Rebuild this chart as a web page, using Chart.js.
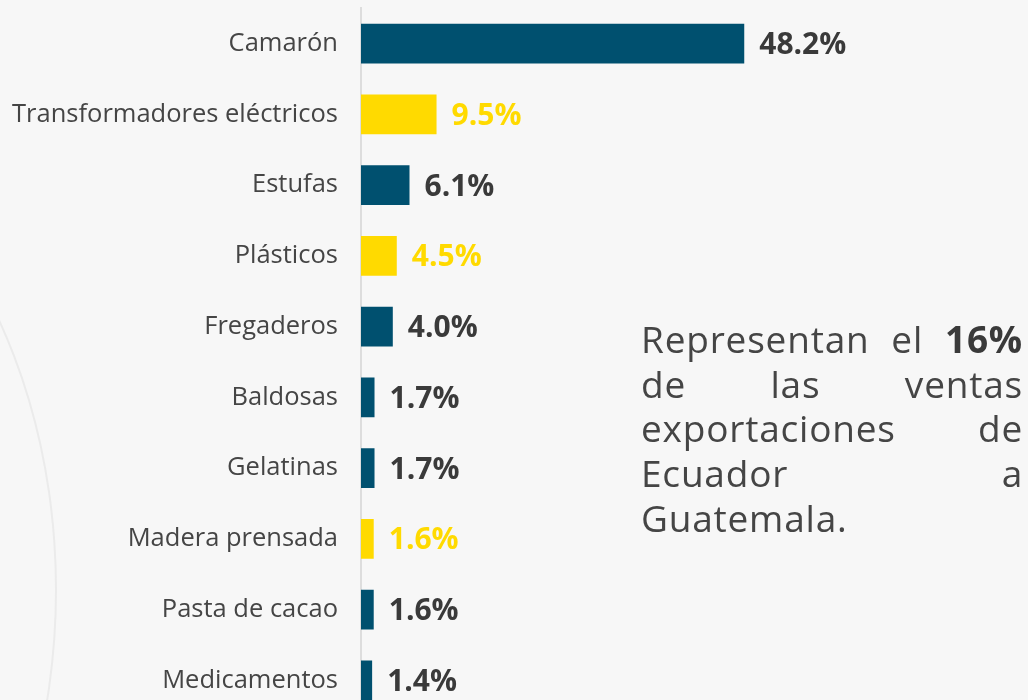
<!DOCTYPE html>
<html>
<head>
<meta charset="utf-8">
<script src="https://cdn.jsdelivr.net/npm/chart.js@4"></script>
<style>
  html, body { margin: 0; padding: 0; background: #f7f7f7; overflow: hidden; }
  body { width: 1028px; height: 700px; position: relative; font-family: "Open Sans", sans-serif; }
  #curva { position: absolute; left: -657px; top: 92px; width: 714px; height: 996px;
           border: 2px solid #ebebeb; border-radius: 50%; box-sizing: border-box; }
  #wrap { position: absolute; left: 0; top: -30px; width: 850px; height: 784px; }
  #nota { position: absolute; left: 641px; top: 317px; width: 382px; color: #454545;
          font-size: 37px; line-height: 44.7px; letter-spacing: 0.8px; }
  #nota div { text-align: justify; text-align-last: justify; white-space: nowrap; }
  #nota div.ult { text-align-last: left; }
  #nota b { font-weight: 700; color: #3a3a3a; }
</style>
</head>
<body>
<div id="curva"></div>
<div id="wrap"><canvas id="grafico"></canvas></div>
<div id="nota">
  <div>Representan el <b>16%</b></div>
  <div>de las ventas</div>
  <div>exportaciones de</div>
  <div>Ecuador a</div>
  <div class="ult">Guatemala.</div>
</div>
<script>
const productos = ["Camarón", "Transformadores eléctricos", "Estufas", "Plásticos", "Fregaderos",
  "Baldosas", "Gelatinas", "Madera prensada", "Pasta de cacao", "Medicamentos"];
const participacion = [48.2, 9.5, 6.1, 4.5, 4.0, 1.7, 1.7, 1.6, 1.6, 1.4];
const destacados = [false, true, false, true, false, false, false, true, false, false];

const AZUL = "#00506f";
const AMARILLO = "#ffda00";

const etiquetasValor = {
  id: "etiquetasValor",
  afterDatasetsDraw(chart) {
    const ctx = chart.ctx;
    const meta = chart.getDatasetMeta(0);
    ctx.save();
    ctx.font = "bold 30px 'Open Sans', sans-serif";
    ctx.textBaseline = "middle";
    ctx.textAlign = "left";
    meta.data.forEach((bar, i) => {
      ctx.fillStyle = destacados[i] ? AMARILLO : "#3a3a3a";
      ctx.fillText(participacion[i].toFixed(1) + "%", bar.x + 15, bar.y + 2);
    });
    ctx.restore();
  }
};

const ctx = document.getElementById("grafico").getContext("2d");
new Chart(ctx, {
  type: "bar",
  data: {
    labels: productos,
    datasets: [{
      data: participacion,
      backgroundColor: destacados.map(d => d ? AMARILLO : AZUL),
      barPercentage: 0.56,
      categoryPercentage: 1
    }]
  },
  options: {
    indexAxis: "y",
    responsive: true,
    maintainAspectRatio: false,
    animation: false,
    layout: { padding: { top: 8, bottom: 2, left: 0, right: 0 } },
    plugins: { legend: { display: false }, tooltip: { enabled: false } },
    scales: {
      x: { display: false, min: 0, max: 61.5 },
      y: {
        afterFit: (scale) => { scale.width = 361; },
        grid: { display: false, drawTicks: false },
        border: { display: true, color: "#dddddd", width: 2 },
        ticks: { color: "#454545", padding: 23, font: { family: "'Open Sans', sans-serif", size: 25.5 } }
      }
    }
  },
  plugins: [etiquetasValor]
});
</script>
</body>
</html>
